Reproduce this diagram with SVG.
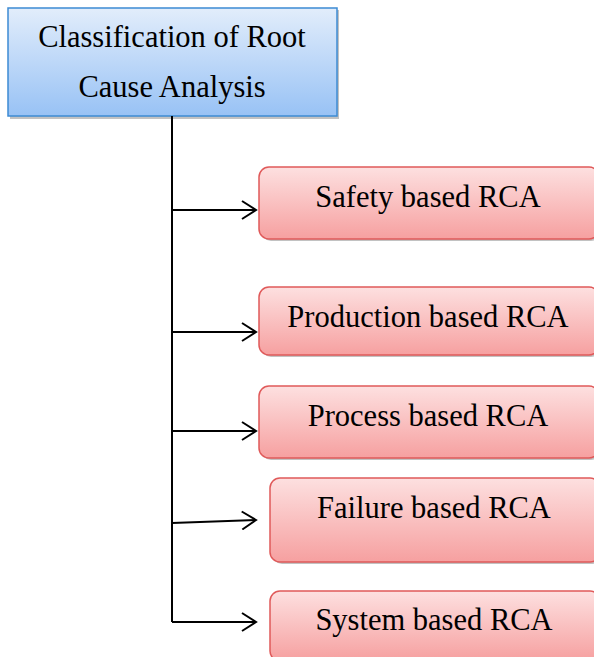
<svg xmlns="http://www.w3.org/2000/svg" width="594" height="657" viewBox="0 0 594 657">
<defs>
<linearGradient id="gb" x1="0" y1="0" x2="0" y2="1">
<stop offset="0" stop-color="#e2edfb"/>
<stop offset="1" stop-color="#98c2f5"/>
</linearGradient>
<linearGradient id="gr" x1="0" y1="0" x2="0" y2="1">
<stop offset="0" stop-color="#fde0e0"/>
<stop offset="1" stop-color="#f6a0a0"/>
</linearGradient>
<marker id="ah" markerWidth="20" markerHeight="20" refX="15" refY="10" orient="auto" markerUnits="userSpaceOnUse">
<path d="M1,1 L15,10 L1,19" fill="none" stroke="#000" stroke-width="2"/>
</marker>
</defs>
<style>
text{font-family:"Liberation Serif","Times New Roman",serif;font-size:30.5px;fill:#000;text-anchor:middle}
.rb{fill:url(#gr);stroke:#e05a5a;stroke-width:1.5}
.sh{fill:#9a9a9a;opacity:0.6}
.c{stroke:#000;stroke-width:2;fill:none}
</style>
<rect width="594" height="657" fill="#fff"/>
<g id="root">
<rect class="sh" x="10" y="10" width="329" height="109"/>
<rect x="8" y="8" width="329" height="108" fill="url(#gb)" stroke="#3d8bd3" stroke-width="1.5"/>
<text x="172" y="47">Classification of Root</text>
<text x="172" y="97">Cause Analysis</text>
</g>
<g id="connectors">
<path class="c" d="M172,116 V622"/>
<path class="c" d="M172,210 H256" marker-end="url(#ah)"/>
<path class="c" d="M172,332 H256" marker-end="url(#ah)"/>
<path class="c" d="M172,431 H256" marker-end="url(#ah)"/>
<path class="c" d="M172,523 L256,520" marker-end="url(#ah)"/>
<path class="c" d="M172,622 H256" marker-end="url(#ah)"/>
</g>
<g id="safety">
<rect class="sh" x="261" y="169" width="340" height="72" rx="10"/>
<rect class="rb" x="259" y="167" width="340" height="72" rx="10"/>
<text x="428" y="207">Safety based RCA</text>
</g>
<g id="production">
<rect class="sh" x="261" y="289" width="340" height="68" rx="10"/>
<rect class="rb" x="259" y="287" width="340" height="68" rx="10"/>
<text x="428" y="327">Production based RCA</text>
</g>
<g id="process">
<rect class="sh" x="261" y="388" width="340" height="72" rx="10"/>
<rect class="rb" x="259" y="386" width="340" height="72" rx="10"/>
<text x="428" y="426">Process based RCA</text>
</g>
<g id="failure">
<rect class="sh" x="272" y="480" width="330" height="84" rx="10"/>
<rect class="rb" x="270" y="478" width="330" height="84" rx="10"/>
<text x="434" y="518">Failure based RCA</text>
</g>
<g id="system">
<rect class="sh" x="272" y="593" width="330" height="70" rx="10"/>
<rect class="rb" x="270" y="591" width="330" height="70" rx="10"/>
<text x="434" y="630">System based RCA</text>
</g>
</svg>
